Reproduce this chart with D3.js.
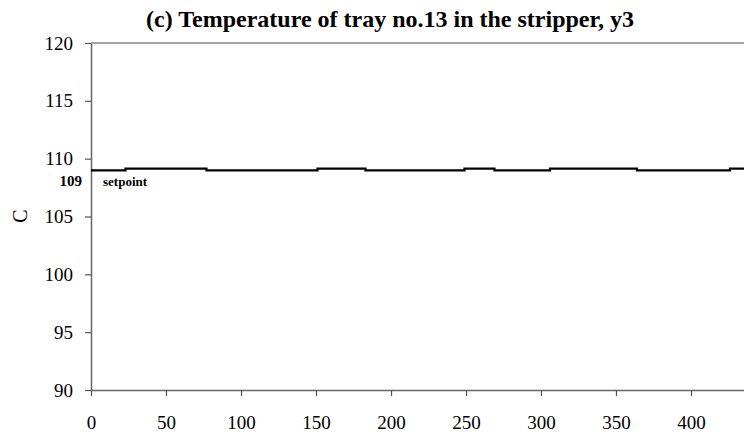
<!DOCTYPE html>
<html>
<head>
<meta charset="utf-8">
<script src="https://cdn.jsdelivr.net/npm/d3@7"></script>
<style>
  body { margin: 0; background: #fff; }
  svg { display: block; font-family: 'Liberation Serif', 'Times New Roman', serif; }
</style>
</head>
<body>
<svg width="744" height="436"></svg>
<script>
// data (time vs tray 13 temperature)
const time = [0, 23, 77, 151, 183, 249, 269, 306, 364, 426, 450];
const temp = [108.98, 109.14, 108.98, 109.14, 108.98, 109.14, 108.98, 109.14, 108.98, 109.14, 109.14];
const xTicks = [0, 50, 100, 150, 200, 250, 300, 350, 400];
const yTicks = [90, 95, 100, 105, 110, 115, 120];
const setpoint = 109;

const svg = d3.select('svg');

const x = d3.scaleLinear().domain([0, 450]).range([91, 766]);
const y = d3.scaleLinear().domain([90, 120]).range([390, 43]);

// title
svg.append('text')
  .attr('x', 390)
  .attr('y', 27)
  .attr('text-anchor', 'middle')
  .attr('font-size', '24px')
  .attr('font-weight', 'bold')
  .text('(c) Temperature of tray no.13 in the stripper, y3');

// top frame line
svg.append('line')
  .attr('x1', x(0)).attr('x2', 744)
  .attr('y1', y(120)).attr('y2', y(120))
  .attr('stroke', '#858585')
  .attr('stroke-width', 1.5);

// y axis
const yAxis = svg.append('g')
  .attr('transform', `translate(${x(0)},0)`)
  .call(d3.axisLeft(y).tickValues(yTicks).tickSize(6).tickPadding(12).tickSizeOuter(0));

// x axis
const xAxis = svg.append('g')
  .attr('transform', `translate(0,${y(90)})`)
  .call(d3.axisBottom(x).tickValues(xTicks).tickSize(6).tickPadding(20).tickSizeOuter(0));

[yAxis, xAxis].forEach((g) => {
  g.select('.domain').attr('stroke', '#666').attr('stroke-width', 1.5);
  g.selectAll('.tick line').attr('stroke', '#555').attr('stroke-width', 1.2);
  g.selectAll('.tick text')
    .attr('fill', '#000')
    .attr('font-size', '19px')
    .attr('font-family', "'Liberation Serif', serif");
});

// y axis title
svg.append('text')
  .attr('transform', 'translate(27,216) rotate(-90)')
  .attr('text-anchor', 'middle')
  .attr('font-size', '20px')
  .text('C');

// temperature line
const line = d3.line()
  .x((d, i) => x(time[i]))
  .y((d) => y(d))
  .curve(d3.curveStepAfter);

svg.append('path')
  .datum(temp)
  .attr('d', line)
  .attr('fill', 'none')
  .attr('stroke', '#000')
  .attr('stroke-width', 2.2);

// setpoint labels
svg.append('text')
  .attr('x', 82)
  .attr('y', y(setpoint) + 16)
  .attr('text-anchor', 'end')
  .attr('font-size', '15px')
  .attr('font-weight', 'bold')
  .text(setpoint);

svg.append('text')
  .attr('x', 103)
  .attr('y', y(setpoint) + 16)
  .attr('font-size', '13px')
  .attr('font-weight', 'bold')
  .text('setpoint');
</script>
</body>
</html>
